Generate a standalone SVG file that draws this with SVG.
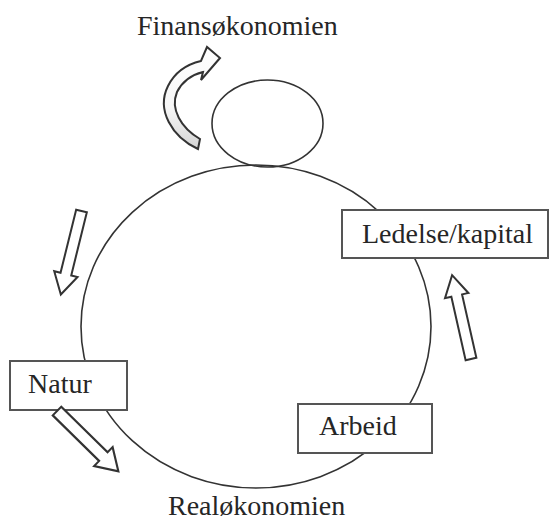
<svg xmlns="http://www.w3.org/2000/svg" width="552" height="520" viewBox="0 0 552 520">
<style>
.t{font-family:"Liberation Serif","Times New Roman",serif;font-size:28px;fill:#262626}
.ln{fill:none;stroke:#333;stroke-width:1.6}
.box{fill:#fff;stroke:#555;stroke-width:2}
.ba{fill:#fff;stroke:#333;stroke-width:2;stroke-linejoin:miter}
</style>
<defs>
<polygon id="blk" points="0,-5.5 65,-5.5 65,-12 86,0 65,12 65,5.5 0,5.5"/>
<linearGradient id="cg" x1="0" y1="0" x2="0" y2="1">
<stop offset="0" stop-color="#fff"/>
<stop offset="0.6" stop-color="#f6f6f6"/>
<stop offset="1" stop-color="#d4d4d4"/>
</linearGradient>
</defs>
<rect width="552" height="520" fill="#fff"/>
<g id="realokonomien">
<ellipse class="ln" cx="256" cy="326.5" rx="175" ry="161.5"/>
<text class="t" x="168" y="515">Realøkonomien</text>
</g>
<g id="finansokonomien">
<ellipse class="ln" cx="267.5" cy="123.5" rx="55.5" ry="43.5"/>
<text class="t" x="137" y="35">Finansøkonomien</text>
</g>
<g id="natur">
<rect class="box" x="10" y="361" width="117" height="49"/>
<text class="t" x="28" y="393">Natur</text>
</g>
<g id="arbeid">
<rect class="box" x="298" y="404" width="134" height="49"/>
<text class="t" x="319" y="435">Arbeid</text>
</g>
<g id="ledelse">
<rect class="box" x="342" y="210" width="206" height="48"/>
<text class="t" x="362" y="243">Ledelse/kapital</text>
</g>
<g id="connectors">
<use href="#blk" class="ba" transform="translate(81.5,211) rotate(103.9)"/>
<use href="#blk" class="ba" transform="translate(57,411) rotate(44.5) scale(1,1.1)"/>
<use href="#blk" class="ba" transform="translate(471,359) rotate(-102.7)"/>
<path class="ba" style="fill:url(#cg)" d="M198,149 C172,137 156,110 168,86 C175,72 188,64 201,61 L207,47 L220,58 L201,80 L203,72 C191,75 182,82 177,92 C170,109 181,128 200,139 Z"/>
</g>
</svg>
